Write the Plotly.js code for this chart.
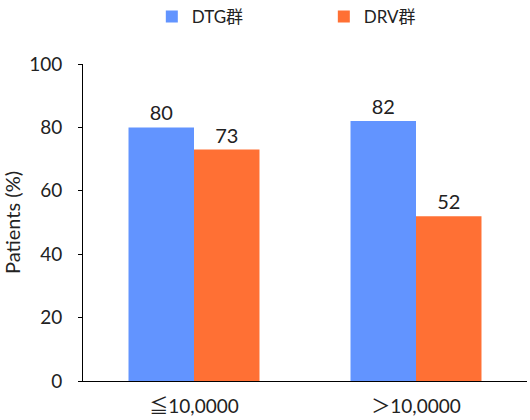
<!DOCTYPE html>
<html>
<head>
<meta charset="utf-8">
<script src="https://cdn.plot.ly/plotly-3.0.1.min.js"></script>
<style>
  html, body { margin: 0; padding: 0; background: #fff; }
  #chart { width: 530px; height: 420px; }
</style>
</head>
<body>
<div id="chart"></div>
<script>
// data
var groups = ["≦10,0000", "＞10,0000"];
var seriesNames = ["DTG群", "DRV群"];
var dtgValues = [80, 82];
var drvValues = [73, 52];
var yTicks = [0, 20, 40, 60, 80, 100];

var fontFamily = "Lato, 'Noto Sans CJK SC', sans-serif";

function barTrace(name, values, color) {
  return {
    type: "bar",
    name: name,
    x: groups,
    y: values,
    text: values.map(String),
    textposition: "outside",
    textfont: { size: 20, color: "#222" },
    cliponaxis: false,
    marker: { color: color },
    hoverinfo: "x+y"
  };
}

var data = [
  barTrace(seriesNames[0], dtgValues, "#6294FF"),
  barTrace(seriesNames[1], drvValues, "#FF7034")
];

var layout = {
  width: 530,
  height: 420,
  margin: { l: 83, r: 3, t: 64, b: 39, autoexpand: false },
  font: { family: fontFamily, size: 18, color: "#222" },
  paper_bgcolor: "#fff",
  plot_bgcolor: "#fff",
  barmode: "group",
  bargap: 0.41,
  bargroupgap: 0,
  showlegend: true,
  legend: {
    orientation: "h",
    x: 0.155,
    xref: "paper",
    xanchor: "left",
    y: 1.205,
    yanchor: "top",
    font: { size: 17 },
    entrywidth: 127,
    entrywidthmode: "pixels"
  },
  xaxis: {
    type: "category",
    showline: true,
    linecolor: "#000",
    linewidth: 1,
    ticks: "",
    showgrid: false,
    tickfont: { size: 19 },
    ticklabelstandoff: 8
  },
  yaxis: {
    range: [0, 100],
    tickvals: yTicks,
    showline: true,
    linecolor: "#000",
    linewidth: 1,
    ticks: "outside",
    ticklen: 4,
    tickcolor: "#000",
    showgrid: false,
    zeroline: false,
    tickfont: { size: 19 },
    ticklabelstandoff: 12,
    title: { text: "Patients (%)", font: { size: 20 }, standoff: 12 }
  }
};

Plotly.newPlot("chart", data, layout, { displayModeBar: false, staticPlot: true });
</script>
</body>
</html>
